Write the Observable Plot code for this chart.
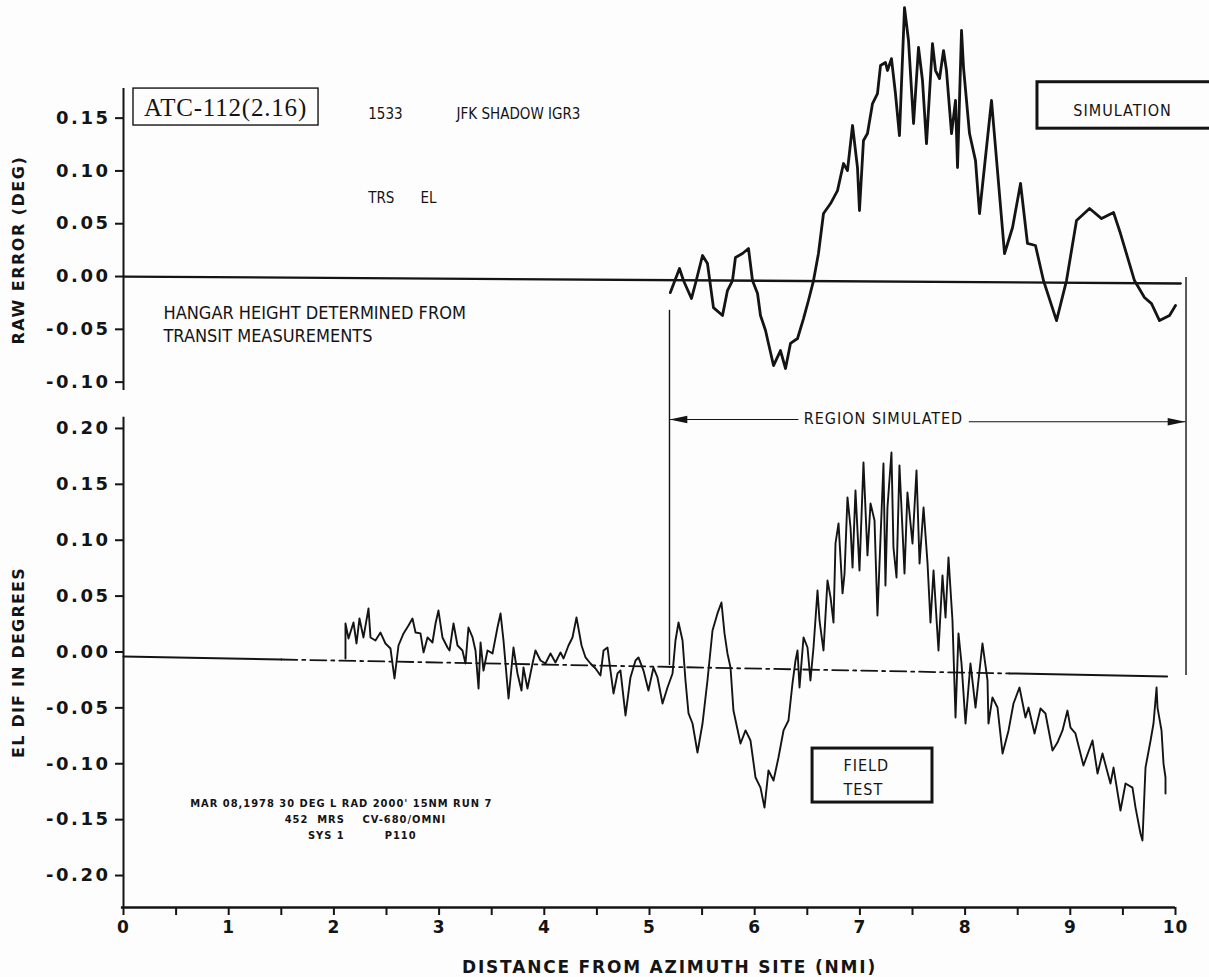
<!DOCTYPE html>
<html><head><meta charset="utf-8">
<script src="https://cdn.jsdelivr.net/npm/d3@7"></script>
<script src="https://cdn.jsdelivr.net/npm/@observablehq/plot@0.6"></script>
<style>
html,body{margin:0;padding:0;background:#fdfdfd;}
#wrap{position:relative;width:1209px;height:977px;overflow:hidden;background:#fdfdfd;}
#top,#bot{position:absolute;left:0;}
#top{top:0;} #bot{top:400px;}
svg{display:block;overflow:visible;}
</style></head><body><div id="wrap"><div id="top"></div><div id="bot"></div></div>
<script>
// ---------- data (distance in NMI, error in degrees) ----------
const xTicks = [0,1,2,3,4,5,6,7,8,9,10];
const xHalfTicks = [0,0.5,1,1.5,2,2.5,3,3.5,4,4.5,5,5.5,6,6.5,7,7.5,8,8.5,9,9.5,10];
const topTicks = [-0.10,-0.05,0.00,0.05,0.10,0.15];
const botTicks = [-0.20,-0.15,-0.10,-0.05,0.00,0.05,0.10,0.15,0.20];

// SIMULATION (raw error, deg)
const simX = [5.198,5.285,5.323,5.399,5.437,5.504,5.551,5.608,5.694,5.741,
  5.789,5.817,5.884,5.941,5.979,6.027,6.055,6.103,6.131,6.179,
  6.245,6.293,6.340,6.407,6.464,6.511,6.559,6.606,6.654,6.721,
  6.787,6.844,6.882,6.930,6.977,6.996,7.034,7.072,7.120,7.167,
  7.196,7.243,7.262,7.300,7.338,7.376,7.424,7.462,7.510,7.557,
  7.595,7.633,7.690,7.719,7.757,7.795,7.823,7.871,7.909,7.928,
  7.966,7.985,8.042,8.099,8.137,8.251,8.375,8.451,8.527,8.593,
  8.669,8.745,8.869,8.964,9.059,9.183,9.297,9.411,9.477,9.610,
  9.705,9.772,9.848,9.943,10.000];
const simY = [-0.0152,0.0076,-0.0038,-0.0208,-0.0066,0.0199,0.0123,-0.0294,-0.0369,-0.0133,
  -0.0038,0.0180,0.0218,0.0265,-0.0038,-0.0161,-0.0369,-0.0511,-0.0634,-0.0843,
  -0.0701,-0.0871,-0.0634,-0.0587,-0.0398,-0.0227,-0.0038,0.0218,0.0597,0.0691,
  0.0814,0.1070,0.1004,0.1430,0.1032,0.0625,0.1288,0.1354,0.1638,0.1733,
  0.1998,0.2027,0.1951,0.2064,0.1733,0.1335,0.2547,0.2235,0.1449,0.2169,
  0.1856,0.1259,0.2206,0.1951,0.1875,0.2140,0.1951,0.1354,0.1667,0.1032,
  0.2330,0.1979,0.1354,0.1098,0.0597,0.1667,0.0218,0.0464,0.0881,0.0313,
  0.0294,-0.0038,-0.0417,-0.0038,0.0530,0.0644,0.0549,0.0606,0.0407,-0.0038,
  -0.0199,-0.0256,-0.0417,-0.0369,-0.0275];

// FIELD TEST (EL dif, deg)
const fieldX = [2.110,2.110,2.139,2.186,2.215,2.243,2.281,2.329,2.348,2.395,
  2.443,2.490,2.538,2.576,2.614,2.662,2.709,2.747,2.776,2.823,
  2.852,2.890,2.937,2.966,2.994,3.032,3.080,3.099,3.137,3.175,
  3.222,3.251,3.279,3.318,3.346,3.375,3.394,3.422,3.460,3.508,
  3.555,3.584,3.612,3.660,3.707,3.745,3.783,3.802,3.840,3.888,
  3.916,3.964,4.011,4.059,4.106,4.154,4.183,4.230,4.268,4.306,
  4.354,4.392,4.439,4.487,4.534,4.563,4.601,4.629,4.658,4.696,
  4.724,4.772,4.819,4.867,4.895,4.943,4.990,5.038,5.076,5.124,
  5.171,5.219,5.247,5.276,5.314,5.342,5.371,5.409,5.456,5.504,
  5.551,5.599,5.646,5.684,5.713,5.741,5.770,5.798,5.865,5.913,
  5.960,6.008,6.055,6.093,6.131,6.179,6.226,6.274,6.321,6.359,
  6.388,6.407,6.426,6.464,6.502,6.530,6.559,6.597,6.616,6.654,
  6.692,6.721,6.749,6.768,6.797,6.835,6.854,6.882,6.911,6.930,
  6.958,6.996,7.034,7.072,7.101,7.139,7.167,7.224,7.243,7.262,
  7.300,7.319,7.348,7.376,7.395,7.424,7.452,7.500,7.538,7.567,
  7.605,7.643,7.671,7.700,7.747,7.785,7.814,7.842,7.880,7.909,
  7.937,7.966,8.004,8.051,8.099,8.165,8.213,8.222,8.260,8.308,
  8.356,8.413,8.460,8.517,8.574,8.603,8.660,8.717,8.764,8.831,
  8.878,8.926,8.973,9.002,9.049,9.125,9.211,9.259,9.306,9.382,
  9.411,9.477,9.525,9.591,9.620,9.667,9.686,9.715,9.763,9.791,
  9.820,9.829,9.867,9.886,9.905,9.905];
const fieldY = [-0.0058,0.0255,0.0121,0.0264,0.0076,0.0300,0.0130,0.0389,0.0130,0.0103,
  0.0174,0.0076,0.0031,-0.0237,0.0058,0.0166,0.0237,0.0300,0.0174,0.0166,
  -0.0004,0.0130,0.0085,0.0255,0.0371,0.0130,0.0040,0.0013,0.0255,0.0058,
  0.0013,-0.0103,0.0219,0.0130,0.0013,-0.0327,0.0085,-0.0166,0.0013,-0.0013,
  0.0219,0.0345,0.0103,-0.0416,0.0040,-0.0192,-0.0345,-0.0139,-0.0327,-0.0103,
  0.0013,-0.0076,-0.0103,-0.0013,-0.0094,-0.0004,-0.0058,0.0058,0.0130,0.0309,
  0.0058,-0.0049,-0.0103,-0.0148,-0.0210,0.0013,0.0040,-0.0166,-0.0371,-0.0192,
  -0.0166,-0.0568,-0.0228,-0.0076,-0.0049,-0.0166,-0.0345,-0.0139,-0.0228,-0.0461,
  -0.0318,-0.0192,0.0103,0.0264,0.0103,-0.0255,-0.0550,-0.0640,-0.0899,-0.0640,
  -0.0255,0.0192,0.0345,0.0443,0.0166,-0.0013,-0.0139,-0.0524,-0.0819,-0.0702,
  -0.0792,-0.1123,-0.1213,-0.1392,-0.1060,-0.1150,-0.0944,-0.0702,-0.0613,-0.0282,
  -0.0076,0.0013,-0.0318,0.0130,0.0040,-0.0255,0.0040,0.0550,0.0282,0.0013,
  0.0640,0.0488,0.0264,0.0971,0.1150,0.0524,0.0702,0.1383,0.1114,0.0756,
  0.1445,0.0729,0.1696,0.0864,0.1329,0.1177,0.0327,0.1687,0.0595,0.1293,
  0.1785,0.0935,0.0667,0.1669,0.1293,0.0702,0.1427,0.0971,0.1624,0.0792,
  0.1293,0.0792,0.0264,0.0729,0.0013,0.0685,0.0309,0.0846,0.0282,-0.0586,
  0.0166,-0.0103,-0.0640,-0.0103,-0.0497,0.0076,-0.0255,-0.0640,-0.0407,-0.0497,
  -0.0908,-0.0702,-0.0461,-0.0318,-0.0586,-0.0497,-0.0729,-0.0506,-0.0550,-0.0881,
  -0.0810,-0.0702,-0.0524,-0.0676,-0.0729,-0.1016,-0.0792,-0.1087,-0.0908,-0.1177,
  -0.1034,-0.1418,-0.1177,-0.1213,-0.1392,-0.1624,-0.1687,-0.1034,-0.0792,-0.0640,
  -0.0318,-0.0497,-0.0702,-0.0998,-0.1123,-0.1266];

// reference (zero) lines
const topZeroX = [0, 10.05];
const topZeroY = [0.0000, -0.0066];
const botRefX = [0, 1.5, 8.42, 9.92];
const botRefY = [-0.0040, -0.0067, -0.0192, -0.0219];

// simulated region limits (NMI)
const regionX = [5.19, 10.1];

// ---------- helpers ----------
const sim = simX.map((x, i) => ({x, y: simY[i]}));
const field = fieldX.map((x, i) => ({x, y: fieldY[i]}));
const topZero = topZeroX.map((x, i) => ({x, y: topZeroY[i]}));
const botRef = botRefX.map((x, i) => ({x, y: botRefY[i]}));

const AX = "'DejaVu Sans', Verdana, sans-serif";
const PL = "'DejaVu Sans Condensed', 'Liberation Sans Narrow', 'DejaVu Sans', sans-serif";
const INK = "#141414";
const T = (s, x, y, o = {}) => Plot.text([s], {x: () => x, y: () => y, text: d => d, fill: INK, fontFamily: PL, fontSize: 15, ...o});
const R = (x1, x2, y1, y2, sw) => Plot.rect([0], {x1: () => x1, x2: () => x2, y1: () => y1, y2: () => y2, fill: "none", stroke: INK, strokeWidth: sw});
const arrowSym = {draw(ctx, size) { const s = Math.sqrt(size); ctx.moveTo(s, 0); ctx.lineTo(-s, -s * 0.42); ctx.lineTo(-s, s * 0.42); ctx.closePath(); }};

// ---------- top panel: simulation ----------
const topPlot = Plot.plot({
  width: 1209, height: 400,
  marginLeft: 123, marginRight: 34, marginTop: 0, marginBottom: 0,
  x: {domain: [0, 10], axis: null},
  y: {domain: [-0.1174, 0.2614], axis: null},
  style: {background: "transparent", color: INK},
  marks: [
    Plot.ruleX([0], {y1: -0.108, y2: 0.178, stroke: INK, strokeWidth: 2}),
    Plot.axisY({ticks: topTicks, tickFormat: d => d.toFixed(2), tickSize: 8, tickPadding: 5,
      fontSize: 18, fontWeight: "bold", fontFamily: AX, strokeWidth: 2, label: null}),
    Plot.line(topZero, {x: "x", y: "y", stroke: INK, strokeWidth: 2.3}),
    Plot.ruleX(regionX, {y1: [-0.032, -0.001], y2: [-0.1174, -0.1174], stroke: INK, strokeWidth: 1.4}),
    Plot.line(sim, {x: "x", y: "y", stroke: INK, strokeWidth: 2.8, strokeLinejoin: "round"}),
    R(0.095, 1.854, 0.143, 0.178, 1.4),
    T("ATC-112(2.16)", 0.97, 0.160, {fontFamily: "'Liberation Serif', 'DejaVu Serif', serif", fontSize: 25}),
    T("1533", 2.49, 0.154, {fontSize: 15}),
    T("JFK SHADOW IGR3", 3.755, 0.154, {fontSize: 15}),
    T("TRS", 2.45, 0.074, {fontSize: 15}),
    T("EL", 2.90, 0.074, {fontSize: 15}),
    T("HANGAR HEIGHT DETERMINED FROM", 0.38, -0.035, {fontSize: 18, textAnchor: "start"}),
    T("TRANSIT MEASUREMENTS", 0.38, -0.057, {fontSize: 18, textAnchor: "start"}),
    R(8.688, 10.9, 0.140, 0.184, 3),
    T("SIMULATION", 9.497, 0.157, {fontSize: 16}),
    T("RAW ERROR (DEG)", -0.998, 0.025, {fontFamily: AX, fontWeight: "bold", fontSize: 16, rotate: -90})
  ]
});

// ---------- bottom panel: field test ----------
const botPlot = Plot.plot({
  width: 1209, height: 577,
  marginLeft: 123, marginRight: 34, marginTop: 0, marginBottom: 70,
  x: {domain: [0, 10], axis: null},
  y: {domain: [-0.2286, 0.225], axis: null},
  style: {background: "transparent", color: INK},
  marks: [
    Plot.ruleX([0], {y1: -0.2286, y2: 0.21, stroke: INK, strokeWidth: 2}),
    Plot.ruleY([-0.2286], {x1: -0.02, x2: 10.0, stroke: INK, strokeWidth: 2.6}),
    Plot.axisY({ticks: botTicks, tickFormat: d => d.toFixed(2), tickSize: 8, tickPadding: 5,
      fontSize: 18, fontWeight: "bold", fontFamily: AX, strokeWidth: 2, label: null}),
    Plot.axisX({ticks: xHalfTicks, tickSize: 8, tickFormat: () => "", strokeWidth: 2, label: null}),
    Plot.axisX({ticks: xTicks, tickSize: 0, tickPadding: 13, tickFormat: d => String(d),
      fontSize: 17, fontWeight: "bold", fontFamily: AX, label: null}),
    Plot.line(botRef.slice(0, 2), {x: "x", y: "y", stroke: INK, strokeWidth: 2}),
    Plot.line(botRef.slice(1, 3), {x: "x", y: "y", stroke: INK, strokeWidth: 1.8, strokeDasharray: "16,5,3,5"}),
    Plot.line(botRef.slice(2, 4), {x: "x", y: "y", stroke: INK, strokeWidth: 2}),
    Plot.ruleX(regionX, {y1: [-0.0121, -0.021], y2: [0.225, 0.225], stroke: INK, strokeWidth: 1.4}),
    Plot.ruleY([0.208], {x1: 5.19, x2: 6.42, stroke: INK, strokeWidth: 1.2}),
    Plot.ruleY([0.206], {x1: 8.04, x2: 10.1, stroke: INK, strokeWidth: 1.2}),
    Plot.dot([0], {x: () => 5.275, y: () => 0.208, symbol: arrowSym, r: 5, fill: INK, stroke: "none", rotate: 180}),
    Plot.dot([0], {x: () => 10.01, y: () => 0.206, symbol: arrowSym, r: 5, fill: INK, stroke: "none"}),
    T("REGION SIMULATED", 7.224, 0.209, {fontSize: 16}),
    Plot.line(field, {x: "x", y: "y", stroke: INK, strokeWidth: 1.9, strokeLinejoin: "round"}),
    R(6.55, 7.69, -0.1347, -0.0864, 3),
    T("FIELD", 6.844, -0.1016, {fontSize: 16, textAnchor: "start"}),
    T("TEST", 6.844, -0.1230, {fontSize: 16, textAnchor: "start"}),
    T("MAR 08,1978 30 DEG L RAD 2000' 15NM RUN 7", 2.07, -0.1356, {fontSize: 11, fontWeight: "bold"}),
    T("452\u00a0\u00a0MRS\u00a0\u00a0\u00a0\u00a0CV-680/OMNI", 2.30, -0.1495, {fontSize: 11, fontWeight: "bold"}),
    T("SYS 1\u00a0\u00a0\u00a0\u00a0\u00a0\u00a0\u00a0\u00a0\u00a0P110", 2.27, -0.1646, {fontSize: 11, fontWeight: "bold"}),
    T("EL DIF IN DEGREES", -0.998, -0.0094, {fontFamily: AX, fontWeight: "bold", fontSize: 16, rotate: -90}),
    T("DISTANCE FROM AZIMUTH SITE (NMI)", 5.19, -0.2286, {fontFamily: AX, fontWeight: "bold", fontSize: 17, dy: 60})
  ]
});

document.getElementById("top").appendChild(topPlot);
document.getElementById("bot").appendChild(botPlot);

// letter spacing for the plotter-style lettering
const spacing = {"RAW ERROR (DEG)": "1.5px", "EL DIF IN DEGREES": "1.2px", "DISTANCE FROM AZIMUTH SITE (NMI)": "1.8px",
  "SIMULATION": "1px", "REGION SIMULATED": "1px", "FIELD": "1px", "TEST": "1px", "ATC-112(2.16)": "0.8px"};
d3.selectAll("#wrap svg text").each(function () {
  const s = spacing[this.textContent];
  if (s) this.style.letterSpacing = s;
  if (/MAR 08|MRS|SYS 1/.test(this.textContent)) this.style.letterSpacing = "1px";
});
d3.selectAll("#wrap svg g[aria-label='y-axis tick label'] text").style("letter-spacing", "2.5px");
d3.selectAll("#wrap svg g[aria-label='x-axis tick label'] text").style("letter-spacing", "1px");
</script>
</body></html>
